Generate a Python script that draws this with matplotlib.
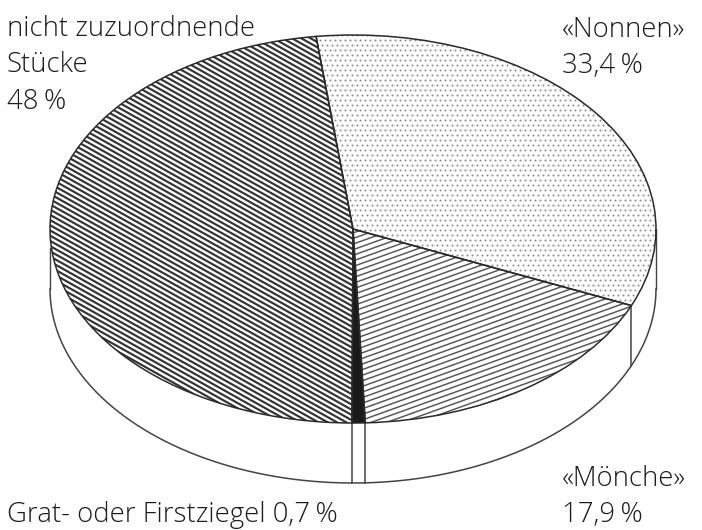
import numpy as np
import matplotlib
matplotlib.use("Agg")
import matplotlib.pyplot as plt
from matplotlib.collections import LineCollection
from matplotlib.patches import Wedge

label_nonnen = ["«Nonnen»", "33,4\u2009%"]
label_moenche = ["«Mönche»", "17,9\u2009%"]
label_grat = ["Grat- oder Firstziegel 0,7\u2009%"]
label_rest = ["nicht zuzuordnende", "Stücke", "48\u2009%"]
values = [33.4, 17.9, 0.7, 48.0]

W, H = 702, 530
CX, CY, RX, RY = 353, 229, 303, 194
DEPTH = 60 / RY
START = 97

plt.rcParams["font.family"] = ["Open Sans", "DejaVu Sans"]
fig = plt.figure(figsize=(W / 100, H / 100), dpi=100, facecolor="white")
ax = fig.add_axes([0, 0, 1, 1])
wedges, _ = ax.pie(values, startangle=START, counterclock=False, radius=1,
                   colors=["white", "white", "#1a1a1a", "white"],
                   wedgeprops=dict(edgecolor="none", linewidth=0, zorder=3))
ax.set_aspect("auto")
ax.set_xlim(-CX / RX, (W - CX) / RX)
ax.set_ylim((CY - H) / RY, CY / RY)
ax.axis("off")

def sx(px):
    return (np.asarray(px, float) - CX) / RX
def sy(py):
    return (CY - np.asarray(py, float)) / RY

# side wall
t = np.radians(np.linspace(0, -180, 300))
xw, yw = np.cos(t), np.sin(t)
ax.fill_between(xw, yw - DEPTH, yw, color="white", zorder=1)
ax.plot(xw, yw - DEPTH, color="#444444", lw=1.1, zorder=2)
ax.plot([1, 1], [0, -DEPTH], color="#444444", lw=1.0, zorder=2)
ax.plot([-1, -1], [-0.1, -DEPTH], color="#444444", lw=1.0, zorder=2)
edges = START - np.cumsum(values) * 3.6
for a in edges[:3]:
    c, s = np.cos(np.radians(a)), np.sin(np.radians(a))
    ax.plot([c, c], [s, s - DEPTH], color="#444444", lw=1.1, zorder=2)

def hatch(wedge, slope, spacing, lw, color):
    offs = np.arange(-900, 900, spacing)
    segs = [[(sx(0), sy(o)), (sx(W), sy(o + slope * W))] for o in offs]
    lc = LineCollection(segs, colors=color, linewidths=lw, zorder=3.5)
    ax.add_collection(lc)
    lc.set_clip_path(wedge)

hatch(wedges[3], 0.56, 5.2, 1.55, "#333333")
hatch(wedges[1], -0.36, 5.6, 1.05, "#555555")
gx, gy = np.meshgrid(np.arange(0, W, 5.0), np.arange(0, H, 5.0))
gx = gx + (np.arange(gx.shape[0])[:, None] % 2) * 2.5
sc = ax.scatter(sx(gx.ravel()), sy(gy.ravel()), s=2.0, color="#8a8a8a", linewidths=0, zorder=3.5)
sc.set_clip_path(wedges[0])

for w in wedges:
    ax.add_patch(Wedge(w.center, w.r, w.theta1, w.theta2, fill=False,
                       edgecolor="#2a2a2a", lw=1.1, zorder=4))

FS = 19.8
def put(x, ys, lines):
    for y, s in zip(ys, lines):
        fig.text(x / W, 1 - y / H, s, fontsize=FS, color="#1c1c1c", va="baseline", fontweight="light")

put(7, [36, 72, 109], label_rest)
put(562, [37, 73], label_nonnen)
put(562, [486, 522], label_moenche)
put(7, [522], label_grat)

fig.savefig("out.png", dpi=100)
